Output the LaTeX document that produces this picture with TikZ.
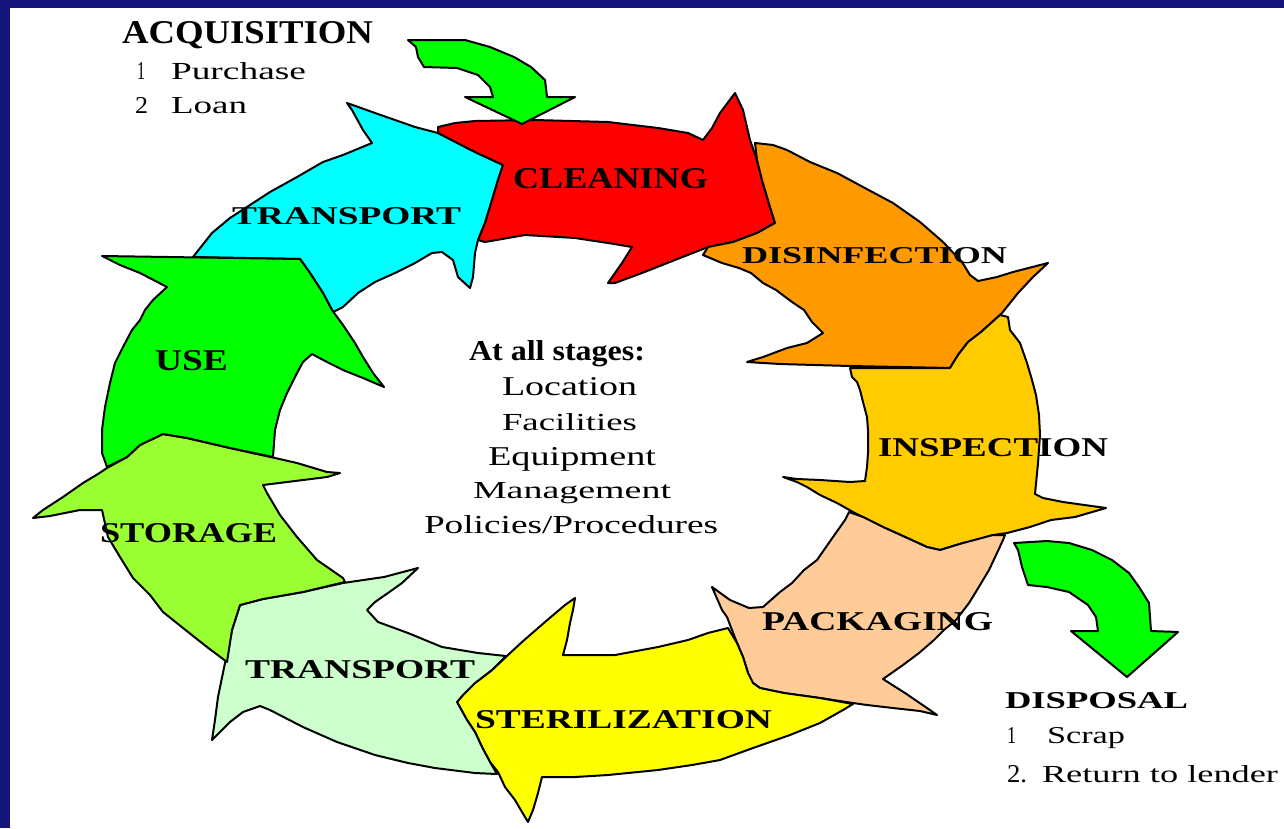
\documentclass[tikz,border=0pt]{standalone}
\usepackage{fontspec}
\setmainfont{Liberation Serif}
\usepackage{graphicx}
\definecolor{frame}{HTML}{14147A}
\definecolor{cCyan}{HTML}{00FFFF}
\definecolor{cRed}{HTML}{FF0000}
\definecolor{cOrange}{HTML}{FF9900}
\definecolor{cGold}{HTML}{FFCC00}
\definecolor{cPeach}{HTML}{FFCC99}
\definecolor{cYellow}{HTML}{FFFF00}
\definecolor{cLight}{HTML}{CCFFCC}
\definecolor{cLime}{HTML}{99FF33}
\definecolor{cGreen}{HTML}{00FF00}
\newcommand{\fitbox}[3]{\resizebox{#1pt}{#2pt}{#3}}
\begin{document}
\begin{tikzpicture}[x=1pt,y=-1pt,
  shapeout/.style={draw=black,line width=2pt,line join=round},
  lbl/.style={anchor=base west,inner sep=0pt,outer sep=0pt}]
\useasboundingbox (0,0) rectangle (1284,828);
\clip (0,0) rectangle (1284,828);
\fill[frame] (0,0) rectangle (1284,828);
\fill[white] (10,8) rectangle (1284,828);

% cyan TRANSPORT (upper)
\filldraw[shapeout,fill=cCyan] (347,103) -- (375,113) -- (415,127) -- (438,133) -- (475,152) -- (503,165) -- (498,180) -- (492,200) -- (485,223) -- (478,240) -- (475,253) -- (473,277) -- (470,288) -- (458,277) -- (453,260) -- (442,252) -- (432,253) -- (415,263) -- (395,273) -- (375,282) -- (358,293) -- (343,307) -- (333,312) -- (323,293) -- (310,273) -- (300,259) -- (193,257) -- (212,233) -- (230,218) -- (250,205) -- (270,192) -- (297,177) -- (323,162) -- (343,155) -- (372,143) -- (363,130) -- (352,110) -- cycle;

% red CLEANING
\filldraw[shapeout,fill=cRed] (438,127) -- (455,123) -- (475,121) -- (535,120) -- (608,122) -- (658,128) -- (688,133) -- (703,140) -- (712,128) -- (720,113) -- (735,93) -- (743,110) -- (750,140) -- (757,160) -- (762,180) -- (770,207) -- (775,223) -- (757,233) -- (733,242) -- (708,247) -- (675,260) -- (642,273) -- (615,283) -- (608,283) -- (615,273) -- (622,263) -- (632,247) -- (608,243) -- (575,238) -- (525,235) -- (508,238) -- (485,242) -- (478,240) -- (485,223) -- (492,200) -- (498,180) -- (503,165) -- (475,152) -- (438,133) -- cycle;

% orange DISINFECTION
\filldraw[shapeout,fill=cOrange] (755,143) -- (773,145) -- (787,150) -- (810,162) -- (837,173) -- (863,187) -- (893,203) -- (920,222) -- (943,242) -- (962,262) -- (970,275) -- (978,281) -- (997,277) -- (1013,272) -- (1048,263) -- (1033,277) -- (1018,293) -- (1002,313) -- (981,332) -- (968,342) -- (958,355) -- (950,368) -- (850,366) -- (780,364) -- (747,362) -- (763,357) -- (787,348) -- (807,343) -- (823,333) -- (812,322) -- (804,310) -- (792,302) -- (776,290) -- (763,283) -- (751,273) -- (739,268) -- (722,263) -- (703,255) -- (708,247) -- (733,242) -- (757,233) -- (775,223) -- (770,207) -- (762,180) -- (757,160) -- cycle;

% gold INSPECTION
\filldraw[shapeout,fill=cGold] (850,368) -- (950,368) -- (958,355) -- (968,342) -- (981,332) -- (1000,315) -- (1008,317) -- (1010,330) -- (1020,343) -- (1027,363) -- (1032,380) -- (1036,395) -- (1039,415) -- (1040,435) -- (1038,463) -- (1035,494) -- (1043,498) -- (1063,502) -- (1106,508) -- (1075,517) -- (1051,520) -- (1030,527) -- (1007,533) -- (993,535) -- (977,540) -- (963,543) -- (953,546) -- (940,550) -- (927,547) -- (905,537) -- (883,527) -- (863,517) -- (853,512) -- (837,503) -- (820,495) -- (807,487) -- (797,482) -- (783,477) -- (797,479) -- (820,480) -- (850,482) -- (865,481) -- (867,467) -- (868,453) -- (868,430) -- (867,417) -- (863,402) -- (860,390) -- (857,382) -- (852,377) -- cycle;

% peach PACKAGING
\filldraw[shapeout,fill=cPeach] (849,512) -- (863,517) -- (883,527) -- (905,537) -- (927,547) -- (940,550) -- (963,543) -- (993,535) -- (1005,535) -- (1003,540) -- (997,553) -- (989,570) -- (977,590) -- (969,603) -- (956,620) -- (944,630) -- (934,640) -- (919,653) -- (903,665) -- (883,679) -- (905,693) -- (927,708) -- (937,715) -- (920,711) -- (893,708) -- (867,705) -- (853,703) -- (820,698) -- (784,693) -- (760,688) -- (753,683) -- (748,673) -- (743,657) -- (737,643) -- (732,630) -- (727,617) -- (722,610) -- (712,587) -- (730,600) -- (749,608) -- (763,607) -- (780,592) -- (792,583) -- (804,570) -- (817,560) -- (833,537) -- (845,520) -- cycle;

% yellow STERILIZATION
\filldraw[shapeout,fill=cYellow] (575,598) -- (565,605) -- (545,622) -- (522,642) -- (508,655) -- (492,670) -- (475,683) -- (463,695) -- (457,702) -- (467,720) -- (475,732) -- (482,747) -- (490,762) -- (498,772) -- (505,787) -- (515,800) -- (522,812) -- (528,822) -- (533,810) -- (538,793) -- (542,777) -- (575,777) -- (608,775) -- (658,770) -- (692,765) -- (720,760) -- (753,748) -- (790,735) -- (820,723) -- (843,710) -- (853,704) -- (820,698) -- (784,693) -- (760,688) -- (753,683) -- (748,673) -- (743,657) -- (737,643) -- (728,628) -- (708,633) -- (688,640) -- (658,647) -- (615,655) -- (563,655) -- (567,640) -- (570,623) -- (573,610) -- cycle;

% light green TRANSPORT (lower)
\filldraw[shapeout,fill=cLight] (240,605) -- (263,599) -- (303,592) -- (343,583) -- (384,577) -- (418,568) -- (402,583) -- (388,593) -- (375,602) -- (367,610) -- (378,622) -- (408,633) -- (442,647) -- (478,653) -- (506,656) -- (492,670) -- (475,683) -- (463,695) -- (457,702) -- (467,720) -- (475,732) -- (482,747) -- (490,762) -- (497,774) -- (475,773) -- (435,768) -- (408,763) -- (375,755) -- (337,742) -- (303,727) -- (270,710) -- (260,706) -- (243,712) -- (230,722) -- (212,740) -- (215,720) -- (218,697) -- (225,663) -- (232,630) -- cycle;

% lime STORAGE
\filldraw[shapeout,fill=cLime] (107,468) -- (127,457) -- (140,445) -- (163,434) -- (187,438) -- (230,448) -- (275,458) -- (297,463) -- (327,472) -- (340,473) -- (327,477) -- (287,482) -- (263,485) -- (267,493) -- (280,515) -- (297,537) -- (317,560) -- (343,578) -- (345,582) -- (303,592) -- (263,599) -- (240,605) -- (232,630) -- (227,662) -- (207,647) -- (183,628) -- (163,612) -- (150,595) -- (133,578) -- (120,557) -- (108,537) -- (102,510) -- (80,510) -- (50,516) -- (33,518) -- (43,510) -- (63,497) -- (83,483) -- (98,474) -- cycle;

% green USE
\filldraw[shapeout,fill=cGreen] (102,256) -- (300,259) -- (310,273) -- (323,293) -- (332,310) -- (343,325) -- (355,343) -- (363,357) -- (373,373) -- (384,387) -- (363,378) -- (343,370) -- (327,362) -- (312,354) -- (303,362) -- (297,373) -- (287,393) -- (280,410) -- (275,430) -- (273,457) -- (230,448) -- (187,438) -- (163,434) -- (140,445) -- (127,457) -- (107,467) -- (102,453) -- (102,430) -- (105,407) -- (110,383) -- (115,363) -- (123,347) -- (132,330) -- (140,320) -- (145,310) -- (153,300) -- (167,287) -- (140,273) -- (120,265) -- cycle;

% acquisition arrow
\filldraw[shapeout,fill=cGreen] (408,40) -- (465,40) -- (490,47) -- (514,57) -- (531,67) -- (545,80) -- (547,97) -- (575,97) -- (522,124) -- (465,97) -- (493,97) -- (490,87) -- (478,75) -- (457,68) -- (424,67) -- (418,57) -- (416,47) -- cycle;

% disposal arrow
\filldraw[shapeout,fill=cGreen] (1014,543) -- (1047,541) -- (1069,543) -- (1092,550) -- (1112,560) -- (1129,573) -- (1139,587) -- (1149,603) -- (1151,631) -- (1178,632) -- (1127,677) -- (1071,631) -- (1098,631) -- (1096,617) -- (1088,605) -- (1069,592) -- (1047,587) -- (1028,585) -- (1022,567) -- (1018,550) -- cycle;

% labels
\node[lbl] (acq) at (122,43) {\fitbox{251}{22}{\bfseries ACQUISITION}};
\node[lbl] (acq1) at (137,79) {\fitbox{8}{17}{1}};
\node[lbl] (acq1t) at (171,79) {\fitbox{135}{17}{Purchase}};
\node[lbl] (acq2) at (135,113) {\fitbox{13}{16}{2}};
\node[lbl] (acq2t) at (171,113) {\fitbox{76}{16}{Loan}};

\node[lbl] (clean) at (513,188) {\fitbox{195}{20}{\bfseries CLEANING}};
\node[lbl] (trup) at (232,224) {\fitbox{229}{17}{\bfseries TRANSPORT}};
\node[lbl] (disinf) at (742,263) {\fitbox{265}{16}{\bfseries DISINFECTION}};
\node[lbl] (insp) at (878,456) {\fitbox{230}{18}{\bfseries INSPECTION}};
\node[lbl] (pack) at (762,630) {\fitbox{231}{18}{\bfseries PACKAGING}};
\node[lbl] (steril) at (475,728) {\fitbox{297}{18}{\bfseries STERILIZATION}};
\node[lbl] (trlow) at (245,678) {\fitbox{230}{18}{\bfseries TRANSPORT}};
\node[lbl] (stor) at (100,542) {\fitbox{177}{19}{\bfseries STORAGE}};
\node[lbl] (use) at (155,370) {\fitbox{73}{20}{\bfseries USE}};

\node[lbl] (all) at (469,360) {\fitbox{176}{20}{\bfseries At all stages:}};
\node[lbl] (loc) at (502,395) {\fitbox{135}{18}{Location}};
\node[lbl] (fac) at (502,430) {\fitbox{135}{17}{Facilities}};
\node[lbl] (equ) at (488,465) {\fitbox{168}{18}{Equipment}};
\node[lbl] (man) at (473,498) {\fitbox{198}{16}{Management}};
\node[lbl] (pol) at (424,533) {\fitbox{294}{18}{Policies/Procedures}};

\node[lbl] (disp) at (1005,708) {\fitbox{183}{16}{\bfseries DISPOSAL}};
\node[lbl] (disp1) at (1007,743) {\fitbox{9}{16}{1}};
\node[lbl] (disp1t) at (1047,743) {\fitbox{78}{16}{Scrap}};
\node[lbl] (disp2) at (1007,782) {\fitbox{20}{17}{2.}};
\node[lbl] (disp2t) at (1042,782) {\fitbox{236}{17}{Return to lender}};
\end{tikzpicture}
\end{document}
